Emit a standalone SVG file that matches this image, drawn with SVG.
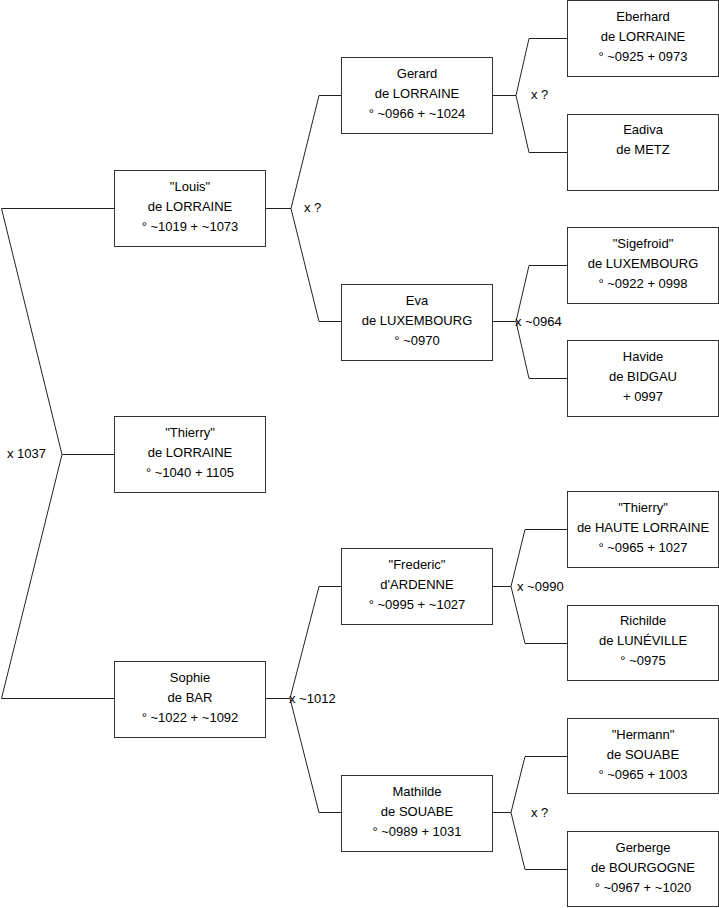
<svg xmlns="http://www.w3.org/2000/svg" width="719" height="908" viewBox="0 0 719 908">
<style>
.box rect{fill:#fff;stroke:#333;stroke-width:1}
.box text{font-family:"Liberation Sans",Arial,sans-serif;font-size:13px;fill:#000;text-anchor:middle}
.conn path{fill:none;stroke:#222;stroke-width:1}
.lbl{font-family:"Liberation Sans",Arial,sans-serif;font-size:13px;fill:#000}
</style>
<rect width="719" height="908" fill="#fff"/>
<g id="connectors" class="conn">
<path d="M114,208.5 H1.5 L62,454.5 L1.5,698.5 H114 M62,454.5 H114"/>
<path d="M265,208.5 H291 M319,95.5 L291,208.5 L319,321.5 M319,95.5 H341 M319,321.5 H341"/>
<path d="M265,698.5 H290 M319,586.5 L290,698.5 L319,812.5 M319,586.5 H341 M319,812.5 H341"/>
<path d="M492,95.5 H516 M529,38.5 L516,95.5 L529,152.5 M529,38.5 H567 M529,152.5 H567"/>
<path d="M492,321.5 H516 M529,265.5 L516,321.5 L529,378.5 M529,265.5 H567 M529,378.5 H567"/>
<path d="M492,586.5 H511 M525,529.5 L511,586.5 L525,643.5 M525,529.5 H567 M525,643.5 H567"/>
<path d="M492,812.5 H511 M525,756.5 L511,812.5 L525,869.5 M525,756.5 H567 M525,869.5 H567"/>
</g>
<g id="labels">
<text class="lbl" x="7" y="458">x 1037</text>
<text class="lbl" x="304" y="212">x ?</text>
<text class="lbl" x="289" y="703">x ~1012</text>
<text class="lbl" x="531" y="99">x ?</text>
<text class="lbl" x="515" y="326">x ~0964</text>
<text class="lbl" x="517" y="591">x ~0990</text>
<text class="lbl" x="531" y="817">x ?</text>
</g>
<g id="louis" class="box"><rect x="114.5" y="170.5" width="151" height="76"/><text x="190" y="191">"Louis"</text><text x="190" y="211">de LORRAINE</text><text x="190" y="231">° ~1019 + ~1073</text></g>
<g id="thierry" class="box"><rect x="114.5" y="416.5" width="151" height="76"/><text x="190" y="437">"Thierry"</text><text x="190" y="457">de LORRAINE</text><text x="190" y="477">° ~1040 + 1105</text></g>
<g id="sophie" class="box"><rect x="114.5" y="661.5" width="151" height="76"/><text x="190" y="682">Sophie</text><text x="190" y="702">de BAR</text><text x="190" y="722">° ~1022 + ~1092</text></g>
<g id="gerard" class="box"><rect x="341.5" y="57.5" width="151" height="76"/><text x="417" y="78">Gerard</text><text x="417" y="98">de LORRAINE</text><text x="417" y="118">° ~0966 + ~1024</text></g>
<g id="eva" class="box"><rect x="341.5" y="284.5" width="151" height="76"/><text x="417" y="305">Eva</text><text x="417" y="325">de LUXEMBOURG</text><text x="417" y="345">° ~0970</text></g>
<g id="frederic" class="box"><rect x="341.5" y="548.5" width="151" height="76"/><text x="417" y="569">"Frederic"</text><text x="417" y="589">d'ARDENNE</text><text x="417" y="609">° ~0995 + ~1027</text></g>
<g id="mathilde" class="box"><rect x="341.5" y="775.5" width="151" height="76"/><text x="417" y="796">Mathilde</text><text x="417" y="816">de SOUABE</text><text x="417" y="836">° ~0989 + 1031</text></g>
<g id="eberhard" class="box"><rect x="567.5" y="0.5" width="151" height="76"/><text x="643" y="21">Eberhard</text><text x="643" y="41">de LORRAINE</text><text x="643" y="61">° ~0925 + 0973</text></g>
<g id="eadiva" class="box"><rect x="567.5" y="114.5" width="151" height="76"/><text x="643" y="134">Eadiva</text><text x="643" y="154">de METZ</text></g>
<g id="sigefroid" class="box"><rect x="567.5" y="227.5" width="151" height="76"/><text x="643" y="248">"Sigefroid"</text><text x="643" y="268">de LUXEMBOURG</text><text x="643" y="288">° ~0922 + 0998</text></g>
<g id="havide" class="box"><rect x="567.5" y="340.5" width="151" height="76"/><text x="643" y="361">Havide</text><text x="643" y="381">de BIDGAU</text><text x="643" y="401">+ 0997</text></g>
<g id="thierry-hl" class="box"><rect x="567.5" y="491.5" width="151" height="76"/><text x="643" y="512">"Thierry"</text><text x="643" y="532">de HAUTE LORRAINE</text><text x="643" y="552">° ~0965 + 1027</text></g>
<g id="richilde" class="box"><rect x="567.5" y="605.5" width="151" height="75"/><text x="643" y="625">Richilde</text><text x="643" y="645">de LUNÉVILLE</text><text x="643" y="665">° ~0975</text></g>
<g id="hermann" class="box"><rect x="567.5" y="718.5" width="151" height="75"/><text x="643" y="739">"Hermann"</text><text x="643" y="759">de SOUABE</text><text x="643" y="779">° ~0965 + 1003</text></g>
<g id="gerberge" class="box"><rect x="567.5" y="831.5" width="151" height="75"/><text x="643" y="852">Gerberge</text><text x="643" y="872">de BOURGOGNE</text><text x="643" y="892">° ~0967 + ~1020</text></g>
</svg>
